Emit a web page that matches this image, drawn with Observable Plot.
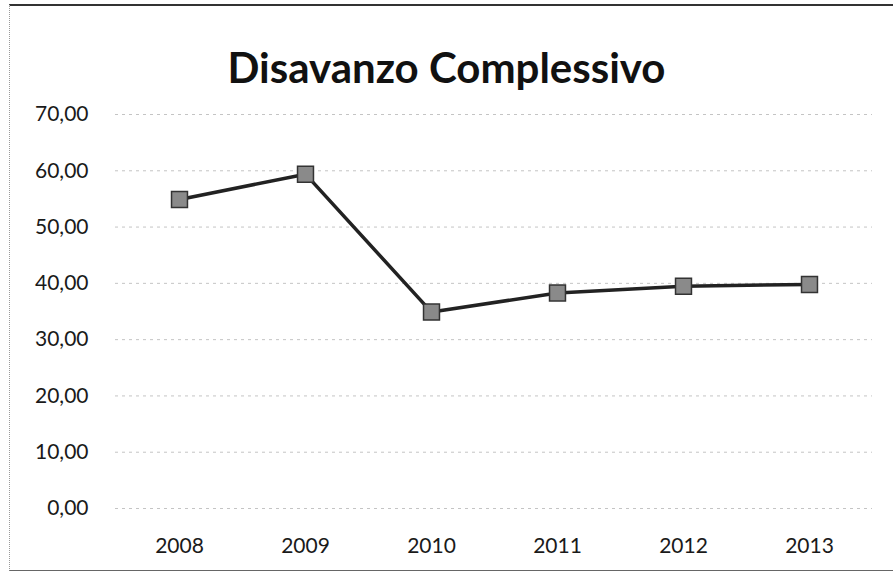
<!DOCTYPE html>
<html>
<head>
<meta charset="utf-8">
<script src="https://cdn.jsdelivr.net/npm/d3@7"></script>
<script src="https://cdn.jsdelivr.net/npm/@observablehq/plot@0.6"></script>
<style>
  html, body { margin: 0; padding: 0; background: #fff; }
  body { width: 893px; height: 576px; overflow: hidden; position: relative; font-family: Lato, "Open Sans", sans-serif; }
  #frame { position: absolute; left: 9px; top: 4px; width: 900px; height: 564px;
           border-top: 2px solid #333; border-left: 1px dotted #999; border-bottom: 1px solid #666; }
  #title { position: absolute; left: 0; top: 17px; width: 893px; height: 100px; text-align: center;
           font-weight: 700; font-size: 42px; line-height: 100px; color: #111; }
  #chart { position: absolute; left: 0; top: 100px; }
</style>
</head>
<body>
<div id="frame"></div>
<div id="title">Disavanzo Complessivo</div>
<div id="chart"></div>
<script>
const years = ["2008", "2009", "2010", "2011", "2012", "2013"];
const values = [54.9, 59.4, 34.9, 38.3, 39.5, 39.8];
const yTicks = [0, 10, 20, 30, 40, 50, 60, 70];

const data = years.map((y, i) => ({year: y, value: values[i]}));
const fmt = d => d3.format(".2f")(d).replace(".", ",");

const chart = Plot.plot({
  width: 893,
  height: 476,
  marginLeft: 115,
  marginRight: 21,
  marginTop: 14,
  marginBottom: 68,
  style: {fontFamily: "Lato, 'Open Sans', sans-serif", fontSize: "21px", color: "#1a1a1a", background: "transparent"},
  x: {domain: years, type: "point", padding: 0.5, label: null},
  y: {domain: [0, 70], label: null},
  marks: [
    Plot.ruleY(yTicks, {stroke: "#c4c4c4", strokeDasharray: "3,4", strokeWidth: 1}),
    Plot.axisY({ticks: yTicks, tickSize: 0, tickPadding: 27, tickFormat: fmt, fontSize: 21, label: null}),
    Plot.axisX({tickSize: 0, tickPadding: 30, fontSize: 21, label: null}),
    Plot.line(data, {x: "year", y: "value", stroke: "#222", strokeWidth: 3.5}),
    Plot.dot(data, {x: "year", y: "value", symbol: "square", r: 9, fill: "#8a8a8a", stroke: "#333", strokeWidth: 1.5})
  ]
});
document.getElementById("chart").appendChild(chart);
</script>
</body>
</html>
